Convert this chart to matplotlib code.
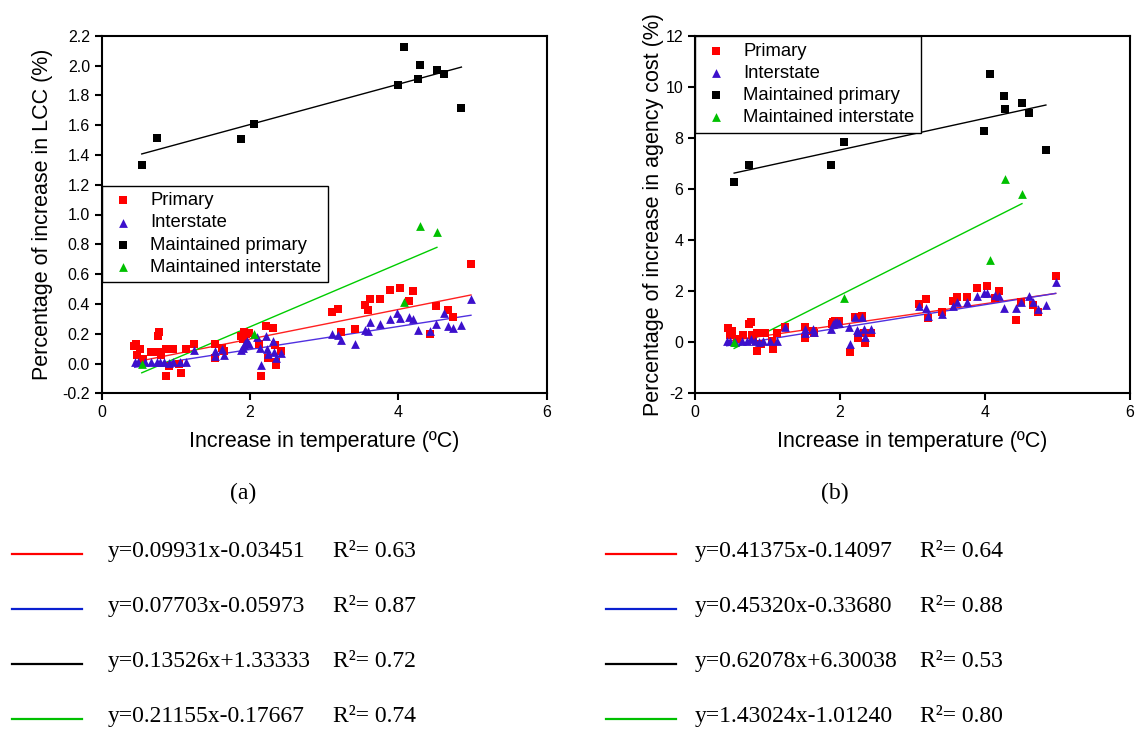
import matplotlib
matplotlib.use("Agg")
import matplotlib.pyplot as plt
import numpy as np

plt.rcParams['font.family'] = ['Liberation Sans', 'DejaVu Sans']
plt.rcParams['axes.unicode_minus'] = False

# ---------------- Data: panel (a) LCC ----------------
lcc_primary_x = [0.44, 0.467, 0.516, 0.476, 0.561, 0.669, 0.759, 0.773, 0.759, 0.795, 0.862, 0.862,
                 0.912, 0.966, 1.047, 1.074, 1.137, 1.249, 1.527, 1.527, 1.622, 1.649, 1.878, 1.901,
                 1.918, 1.941, 1.990, 2.125, 2.143, 2.210, 2.247, 2.310, 2.337, 2.346, 2.346, 2.418,
                 3.110, 3.181, 3.222, 3.415, 3.550, 3.595, 3.618, 3.757, 3.892, 4.026, 4.148, 4.193,
                 4.426, 4.507, 4.669, 4.732, 4.979]
lcc_primary_y = [0.119, 0.134, 0.096, 0.060, 0.031, 0.076, 0.184, 0.210, 0.076, 0.060, 0.094, -0.085,
                 -0.018, 0.094, -0.004, -0.063, 0.098, 0.132, 0.134, 0.034, 0.107, 0.085, 0.186, 0.166,
                 0.213, 0.199, 0.208, 0.134, -0.085, 0.251, 0.040, 0.235, 0.123, -0.009, 0.011, 0.085,
                 0.343, 0.369, 0.213, 0.231, 0.390, 0.356, 0.432, 0.434, 0.495, 0.506, 0.419, 0.484,
                 0.201, 0.385, 0.358, 0.313, 0.667]
lcc_inter_x = [0.445, 0.489, 0.584, 0.665, 0.741, 0.786, 0.840, 0.912, 0.957, 1.056, 1.132, 1.249,
               1.523, 1.527, 1.627, 1.649, 1.878, 1.905, 1.918, 1.936, 1.954, 1.986, 2.089, 2.134,
               2.143, 2.210, 2.224, 2.247, 2.305, 2.328, 2.346, 2.422, 3.110, 3.190, 3.222, 3.415,
               3.555, 3.595, 3.618, 3.757, 3.892, 3.986, 4.026, 4.148, 4.193, 4.270, 4.426, 4.507,
               4.620, 4.669, 4.732, 4.849, 4.979]
lcc_inter_y = [0.007, 0.007, 0.007, 0.007, 0.007, 0.011, 0.007, 0.004, 0.011, 0.007, 0.007, 0.090,
               0.049, 0.081, 0.094, 0.060, 0.090, 0.101, 0.123, 0.139, 0.150, 0.128, 0.179, 0.101,
               -0.011, 0.184, 0.096, 0.067, 0.150, 0.078, 0.034, 0.072, 0.201, 0.188, 0.161, 0.132,
               0.224, 0.217, 0.280, 0.266, 0.296, 0.340, 0.307, 0.313, 0.298, 0.224, 0.217, 0.262,
               0.340, 0.253, 0.240, 0.257, 0.434]
lcc_mprim_x = [0.54, 0.74, 1.88, 2.06, 3.99, 4.08, 4.27, 4.29, 4.52, 4.62, 4.85]
lcc_mprim_y = [1.33, 1.513, 1.504, 1.605, 1.867, 2.126, 1.907, 2.003, 1.972, 1.941, 1.717]
lcc_minter_x = [0.54, 2.05, 4.07, 4.29, 4.52]
lcc_minter_y = [0.0, 0.195, 0.41, 0.92, 0.882]

# fitted lines (slope, intercept, R^2) for panel (a)
lcc_fit_slope = [0.09931, 0.07703, 0.13526, 0.21155]
lcc_fit_icpt = [-0.03451, -0.05973, 1.33333, -0.17667]
lcc_fit_text = ["y=0.09931x-0.03451", "y=0.07703x-0.05973", "y=0.13526x+1.33333", "y=0.21155x-0.17667"]
lcc_fit_r2 = ["0.63", "0.87", "0.72", "0.74"]

# ---------------- Data: panel (b) agency cost ----------------
ag_primary_x = [0.451, 0.483, 0.515, 0.575, 0.667, 0.745, 0.768, 0.782, 0.805, 0.860, 0.860, 0.906,
                0.966, 1.057, 1.071, 1.126, 1.246, 1.522, 1.522, 1.623, 1.646, 1.885, 1.908, 1.931,
                1.991, 2.138, 2.207, 2.244, 2.299, 2.336, 2.345, 2.423, 3.094, 3.186, 3.218, 3.402,
                3.554, 3.609, 3.747, 3.890, 4.023, 4.143, 4.193, 4.423, 4.497, 4.667, 4.726, 4.975]
ag_primary_y = [0.549, 0.288, 0.458, 0.118, 0.288, 0.719, 0.784, 0.288, 0.196, 0.379, -0.327, -0.065,
                0.379, 0.065, -0.261, 0.379, 0.588, 0.588, 0.157, 0.458, 0.379, 0.719, 0.810, 0.850,
                0.850, -0.366, 0.980, 0.157, 1.046, 0.353, -0.039, 0.353, 1.503, 1.712, 0.967, 1.203,
                1.634, 1.765, 1.791, 2.118, 2.222, 1.725, 2.026, 0.863, 1.569, 1.477, 1.176, 2.601]
ag_inter_x = [0.437, 0.483, 0.552, 0.644, 0.713, 0.768, 0.828, 0.887, 0.943, 1.034, 1.126, 1.246,
              1.522, 1.522, 1.623, 1.646, 1.876, 1.908, 1.931, 1.954, 1.986, 2.138, 2.129, 2.207,
              2.230, 2.253, 2.308, 2.331, 2.345, 2.423, 3.094, 3.186, 3.218, 3.402, 3.563, 3.609,
              3.747, 3.890, 3.986, 4.023, 4.138, 4.193, 4.262, 4.423, 4.497, 4.611, 4.667, 4.726,
              4.841, 4.975]
ag_inter_y = [0.065, 0.065, 0.026, 0.065, 0.065, 0.118, 0.065, 0.026, 0.065, 0.065, 0.065, 0.614,
              0.379, 0.510, 0.510, 0.392, 0.510, 0.719, 0.810, 0.784, 0.745, -0.065, 0.614, 1.007,
              0.484, 0.418, 1.007, 0.523, 0.196, 0.523, 1.438, 1.333, 1.033, 1.098, 1.438, 1.569,
              1.569, 1.817, 1.922, 1.948, 1.856, 1.817, 1.333, 1.333, 1.595, 1.817, 1.569, 1.294,
              1.477, 2.366]
ag_mprim_x = [0.54, 0.74, 1.88, 2.06, 3.98, 4.07, 4.26, 4.28, 4.51, 4.61, 4.84]
ag_mprim_y = [6.29, 6.95, 6.97, 7.85, 8.29, 10.52, 9.65, 9.16, 9.38, 8.98, 7.53]
ag_minter_x = [0.54, 2.05, 4.07, 4.28, 4.51]
ag_minter_y = [0.02, 1.74, 3.23, 6.39, 5.83]

ag_fit_slope = [0.41375, 0.45320, 0.62078, 1.43024]
ag_fit_icpt = [-0.14097, -0.33680, 6.30038, -1.01240]
ag_fit_text = ["y=0.41375x-0.14097", "y=0.45320x-0.33680", "y=0.62078x+6.30038", "y=1.43024x-1.01240"]
ag_fit_r2 = ["0.64", "0.88", "0.53", "0.80"]

series_labels = ["Primary", "Interstate", "Maintained primary", "Maintained interstate"]
x_ticks = [0, 2, 4, 6]
lcc_yticks = [-0.2, 0.0, 0.2, 0.4, 0.6, 0.8, 1.0, 1.2, 1.4, 1.6, 1.8, 2.0, 2.2]
ag_yticks = [-2, 0, 2, 4, 6, 8, 10, 12]

# ---------------- Styling ----------------
mk_colors = ['#ff0000', '#3c10cc', '#000000', '#00c000']
mk_shapes = ['s', '^', 's', '^']
mk_sizes = [28, 40, 28, 40]
plot_line_colors = ['#ff2020', '#5030e0', '#000000', '#00cc00']
legend_line_colors = ['#ff0000', '#0a20d0', '#000000', '#00c000']

W, H = 1137, 731
fig = plt.figure(figsize=(W / 100, H / 100), dpi=100)


def px_rect(l, t, r, b):
    return [l / W, 1 - b / H, (r - l) / W, (b - t) / H]


ax1 = fig.add_axes(px_rect(101.7, 35.7, 546.7, 393.3))
ax2 = fig.add_axes(px_rect(695, 36.3, 1130, 393.3))


def draw_panel(ax, xs, ys, slopes, icpts, yticks, ylim, fmt, ylabel, ylabelpad, leg_anchor):
    handles = []
    for i in range(4):
        h = ax.scatter(xs[i], ys[i], s=mk_sizes[i], marker=mk_shapes[i], c=mk_colors[i],
                       linewidths=0, zorder=3, label=series_labels[i])
        handles.append(h)
    for i in range(4):
        x0, x1 = min(xs[i]), max(xs[i])
        xx = np.array([x0, x1])
        ax.plot(xx, slopes[i] * xx + icpts[i], color=plot_line_colors[i], lw=1.0, zorder=2)
    ax.set_xlim(0, 6)
    ax.set_ylim(*ylim)
    ax.set_xticks(x_ticks)
    ax.set_yticks(yticks)
    ax.set_yticklabels([fmt.format(v) for v in yticks])
    ax.tick_params(direction='out', length=5, width=1.5, labelsize=11.5, top=False, right=False)
    for sp in ax.spines.values():
        sp.set_linewidth(1.5)
    ax.set_xlabel("Increase in temperature (ºC)", fontsize=15.5, labelpad=8)
    ax.set_ylabel(ylabel, fontsize=15.5, labelpad=ylabelpad)
    leg = ax.legend(handles=handles, loc='upper left', bbox_to_anchor=leg_anchor,
                    borderaxespad=0, fontsize=13.3, frameon=True, fancybox=False,
                    edgecolor='black', framealpha=1, handlelength=1.6, handletextpad=0.67,
                    labelspacing=0.28, borderpad=0.35, scatterpoints=1)
    leg.get_frame().set_linewidth(1.0)
    return leg


draw_panel(ax1, [lcc_primary_x, lcc_inter_x, lcc_mprim_x, lcc_minter_x],
           [lcc_primary_y, lcc_inter_y, lcc_mprim_y, lcc_minter_y],
           lcc_fit_slope, lcc_fit_icpt, lcc_yticks, (-0.2, 2.2), "{:.1f}",
           "Percentage of increase in LCC (%)", 7, (0, 0.5805))
draw_panel(ax2, [ag_primary_x, ag_inter_x, ag_mprim_x, ag_minter_x],
           [ag_primary_y, ag_inter_y, ag_mprim_y, ag_minter_y],
           ag_fit_slope, ag_fit_icpt, ag_yticks, (-2, 12), "{:d}",
           "Percentage of increase in agency cost (%)", 1, (0, 1.0))

serif = ['Liberation Serif', 'DejaVu Serif']
fig.text(243 / W, 1 - 493 / H, "(a)", family=serif, fontsize=17, ha='center', va='center')
fig.text(835 / W, 1 - 493 / H, "(b)", family=serif, fontsize=17, ha='center', va='center')

row_line_y = [554, 609, 664, 719]
row_text_base = [557, 612, 667, 722]
panels = [
    (12, 82, 108, 333, lcc_fit_text, lcc_fit_r2),
    (606, 676, 695, 920, ag_fit_text, ag_fit_r2),
]
for (lx0, lx1, tx, rx, texts, r2s) in panels:
    for i in range(4):
        yl = 1 - row_line_y[i] / H
        fig.add_artist(plt.Line2D([lx0 / W, lx1 / W], [yl, yl], color=legend_line_colors[i],
                                  lw=1.6, transform=fig.transFigure))
        yb = 1 - row_text_base[i] / H
        fig.text(tx / W, yb, texts[i], family=serif, fontsize=17, ha='left', va='baseline')
        fig.text(rx / W, yb, "R²= " + r2s[i], family=serif, fontsize=17, ha='left', va='baseline')

fig.savefig("out.png", dpi=100)
